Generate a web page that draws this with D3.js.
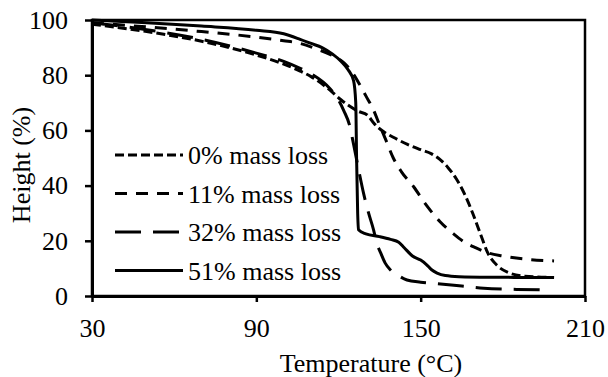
<!DOCTYPE html>
<html>
<head>
<meta charset="utf-8">
<script src="https://cdn.jsdelivr.net/npm/d3@7"></script>
<style>
  body { margin: 0; background: #fff; }
  svg { display: block; font-family: "Liberation Serif", "Times New Roman", serif; }
</style>
</head>
<body>
<svg width="608" height="377"></svg>
<script>
// series names (legend order)
var seriesNames = ["0% mass loss", "11% mass loss", "32% mass loss", "51% mass loss"];

// temperature (°C) / height (%)
var temp0 = [30, 50, 70, 90, 100, 106, 110, 117, 121, 124, 127, 130.6, 133, 136.5, 140, 145, 150, 154, 157, 160, 163, 166, 169, 172, 174.5, 178, 182, 188, 198.7];
var height0 = [98.5, 95.8, 92.3, 87.3, 84, 81.5, 79.5, 74.5, 71, 68.8, 67, 65.5, 62.5, 59.5, 57.5, 55, 53, 51.5, 49.5, 46.5, 42.5, 37, 30, 22, 15.6, 11, 8.5, 7.2, 6.7];

var temp11 = [30, 50, 70, 90, 100, 106, 112, 118, 122, 125, 127.5, 130, 132.5, 135, 137.5, 140, 143, 147.5, 152, 157, 162, 166, 170, 175, 180, 190, 198.7];
var height11 = [99, 97.5, 95.8, 93.8, 92.5, 91.5, 89.5, 87, 84.5, 81, 77, 72.5, 68, 62, 56, 50, 45, 39.5, 33, 27, 22.5, 19.5, 17.5, 15.5, 14.5, 13.2, 12.7];

var temp32 = [30, 50, 70, 90, 100, 106, 110, 117, 120, 122, 124, 125.5, 127.5, 129.2, 131, 132.8, 134, 135.4, 137, 139, 142, 145, 150, 156, 165, 173, 185, 195];
var height32 = [99, 96.5, 93, 88, 85, 82.5, 80.5, 75, 71, 67, 62, 55, 45, 37, 30, 24, 19, 15.6, 12, 9.4, 7.3, 5.8, 5, 4.5, 3.6, 2.8, 2.4, 2.2];

var temp51 = [30, 50, 70, 90, 100, 106, 110, 114, 118, 121, 123.5, 125.5, 126.3, 126.6, 127, 127.3, 130, 135, 139, 142, 144, 147, 150, 152, 154, 156, 159, 164, 175, 198.7];
var height51 = [100, 99, 97.8, 96.3, 95, 93, 91.5, 90, 87.5, 85, 82, 78, 70, 50, 30, 24, 22.5, 21.5, 20.5, 19.5, 17.5, 14.5, 13, 11.5, 9.5, 8.3, 7.4, 7, 6.8, 6.7];

var xTicks = [30, 90, 150, 210];
var yTicks = [0, 20, 40, 60, 80, 100];

var seriesTemps = [temp0, temp11, temp32, temp51];
var seriesHeights = [height0, height11, height32, height51];
var dashes = ["9,4", "12,9", "26,12", null];

var svg = d3.select("svg");
var plotLeft = 92, plotRight = 585, plotTop = 20, plotBottom = 296;

var x = d3.scaleLinear().domain([30, 210]).range([plotLeft, plotRight]);
var y = d3.scaleLinear().domain([0, 100]).range([plotBottom, plotTop]);

// plot frame
svg.append("rect")
  .attr("x", plotLeft).attr("y", plotTop)
  .attr("width", plotRight - plotLeft).attr("height", plotBottom - plotTop)
  .attr("fill", "none").attr("stroke", "#000").attr("stroke-width", 2.5);

var line = d3.line()
  .x(function(d) { return x(d[0]); })
  .y(function(d) { return y(d[1]); })
  .curve(d3.curveMonotoneX);

seriesTemps.forEach(function(ts, i) {
  var pts = ts.map(function(t, j) { return [t, seriesHeights[i][j]]; });
  svg.append("path")
    .datum(pts)
    .attr("fill", "none")
    .attr("stroke", "#000")
    .attr("stroke-width", 3)
    .attr("stroke-dasharray", dashes[i])
    .attr("d", line);
});

// axes
var xAxis = svg.append("g")
  .attr("transform", "translate(0," + plotBottom + ")")
  .call(d3.axisBottom(x).tickValues(xTicks).tickSize(6).tickSizeOuter(0).tickPadding(17).tickFormat(d3.format("d")));
var yAxis = svg.append("g")
  .attr("transform", "translate(" + plotLeft + ",0)")
  .call(d3.axisLeft(y).tickValues(yTicks).tickSize(7).tickSizeOuter(0).tickPadding(17).tickFormat(d3.format("d")));

[xAxis, yAxis].forEach(function(g) {
  g.select(".domain").attr("stroke", "#000").attr("stroke-width", 3);
  g.selectAll(".tick line").attr("stroke", "#000").attr("stroke-width", 2.5);
  g.selectAll(".tick text").attr("fill", "#000")
    .style("font-family", "Liberation Serif").style("font-size", "26px");
});

// axis titles
svg.append("text")
  .attr("x", 371).attr("y", 363)
  .attr("text-anchor", "middle").attr("dy", "0.35em")
  .style("font-size", "26px")
  .text("Temperature (°C)");

svg.append("text")
  .attr("transform", "translate(21,165) rotate(-90)")
  .attr("text-anchor", "middle").attr("dy", "0.35em")
  .style("font-size", "26px")
  .text("Height (%)");

// legend
var legend = svg.append("g");
seriesNames.forEach(function(name, i) {
  var ly = 155 + i * 38.5;
  legend.append("line")
    .attr("x1", 115).attr("x2", 183)
    .attr("y1", ly).attr("y2", ly)
    .attr("stroke", "#000").attr("stroke-width", 3)
    .attr("stroke-dasharray", dashes[i]);
  legend.append("text")
    .attr("x", 188).attr("y", ly).attr("dy", "0.35em")
    .style("font-size", "26px")
    .text(name);
});
</script>
</body>
</html>
